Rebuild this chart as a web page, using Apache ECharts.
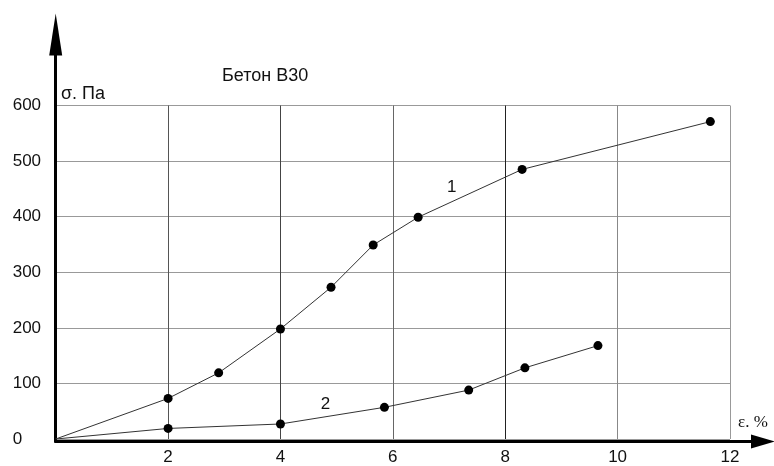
<!DOCTYPE html>
<html>
<head>
<meta charset="utf-8">
<script src="https://cdn.jsdelivr.net/npm/echarts@6/dist/echarts.min.js"></script>
<style>
  html, body { margin: 0; padding: 0; background: #fff; }
  #chart { width: 774px; height: 466px; }
</style>
</head>
<body>
<div id="chart"></div>
<script>
// Stress–strain curves for concrete B30: strain ε (%) vs stress σ (Pa)
const chartTitle = 'Бетон В30';
const yAxisName = 'σ. Па';
const xAxisName = 'ε. %';
const curve1Name = '1';
const curve2Name = '2';

// curve 1: [strain, stress]
const curve1 = [
  [0, 0], [2, 73], [2.9, 119], [4, 198], [4.9, 273],
  [5.65, 349], [6.45, 399], [8.3, 485], [11.65, 571]
];
// curve 2: [strain, stress]
const curve2 = [
  [0, 0], [2, 19], [4, 27], [5.85, 57], [7.35, 88], [8.35, 128], [9.65, 168]
];
// where the curve numbers sit, in data units
const curve1LabelAt = [7.05, 453];
const curve2LabelAt = [4.8, 63];

// vertical grid line shades for x = 0, 2, 4, ..., 12
const xGridColors = ['#000', '#555', '#444', '#666', '#222', '#888', '#999'];

const font = 'Liberation Sans, Arial, sans-serif';

function toPoints(arr) {
  return arr.map((p, i) => i === 0 ? { value: p, symbol: 'none' } : { value: p });
}

function curveNumber(coord, text) {
  return {
    symbol: 'circle',
    symbolSize: 2,
    itemStyle: { color: 'rgba(0,0,0,0)' },
    data: [{ coord: coord, value: text }],
    label: {
      show: true, position: 'inside', formatter: text,
      fontFamily: font, fontSize: 17, color: '#111'
    }
  };
}

const chart = echarts.init(document.getElementById('chart'), null, { renderer: 'canvas' });

chart.setOption({
  animation: false,
  backgroundColor: '#fff',
  title: {
    text: chartTitle,
    left: 217, top: 62,
    textStyle: { fontFamily: font, fontSize: 18, fontWeight: 'normal', color: '#111' }
  },
  graphic: [
    { type: 'text', left: 61, top: 85, style: { text: yAxisName, font: '18px ' + font, fill: '#111' } },
    { type: 'text', left: 738, top: 414, style: { text: xAxisName, font: '17px Liberation Serif, Times New Roman, serif', fill: '#111' } }
  ],
  grid: [
    // data grid
    { left: 55.7, right: 44, top: 105.5, bottom: 24.5 },
    // arrowed axes
    { left: 55.7, right: 11, top: 34.5, bottom: 24.5 }
  ],
  xAxis: [
    {
      gridIndex: 0, type: 'value', min: 0, max: 12, interval: 2,
      axisLine: { show: false },
      axisTick: { show: false },
      axisLabel: {
        margin: 10, fontFamily: font, fontSize: 17, color: '#111',
        formatter: v => v === 0 ? '' : String(v)
      },
      splitLine: { show: true, lineStyle: { color: xGridColors, width: 1 } }
    },
    {
      gridIndex: 1, type: 'value', min: 0, max: 1,
      axisLine: {
        show: true, onZero: false,
        symbol: ['none', 'triangle'], symbolSize: [14, 24],
        lineStyle: { color: '#000', width: 3 }
      },
      axisTick: { show: false }, axisLabel: { show: false }, splitLine: { show: false }
    }
  ],
  yAxis: [
    {
      gridIndex: 0, type: 'value', min: 0, max: 600, interval: 100,
      axisLine: { show: false },
      axisTick: { show: false },
      axisLabel: { margin: 43, align: 'left', fontFamily: font, fontSize: 17, color: '#111' },
      splitLine: { show: true, lineStyle: { color: '#999', width: 1 } }
    },
    {
      gridIndex: 1, type: 'value', min: 0, max: 1,
      axisLine: {
        show: true, onZero: false,
        symbol: ['none', 'triangle'], symbolSize: [13, 42],
        lineStyle: { color: '#000', width: 3 }
      },
      axisTick: { show: false }, axisLabel: { show: false }, splitLine: { show: false }
    }
  ],
  series: [
    {
      name: curve1Name, type: 'line', xAxisIndex: 0, yAxisIndex: 0,
      data: toPoints(curve1),
      symbol: 'circle', symbolSize: 9,
      itemStyle: { color: '#000' },
      lineStyle: { color: '#333', width: 1 },
      markPoint: curveNumber(curve1LabelAt, curve1Name)
    },
    {
      name: curve2Name, type: 'line', xAxisIndex: 0, yAxisIndex: 0,
      data: toPoints(curve2),
      symbol: 'circle', symbolSize: 9,
      itemStyle: { color: '#000' },
      lineStyle: { color: '#333', width: 1 },
      markPoint: curveNumber(curve2LabelAt, curve2Name)
    }
  ]
});
</script>
</body>
</html>
